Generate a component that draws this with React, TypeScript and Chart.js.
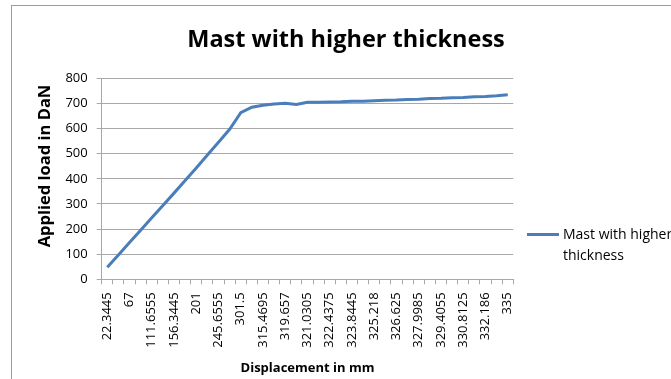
import React, { useEffect, useRef } from "react";
import { Chart, registerables } from "chart.js";

Chart.register(...registerables);

// ---- data ---------------------------------------------------------------
const chartTitle = "Mast with higher thickness";
const seriesName = "Mast with higher thickness";
const xAxisTitle = "Displacement in mm";
const yAxisTitle = "Applied load in DaN";

// displacement readings (mm), one per category
const displacement = [
  "22.3445", "44.6555", "67", "89.3445", "111.6555", "134", "156.3445", "178.6555",
  "201", "223.3445", "245.6555", "268", "301.5", "312.6445", "315.4695", "317.5625",
  "319.657", "320.3435", "321.0305", "321.734", "322.4375", "323.141", "323.8445",
  "324.5315", "325.218", "325.9215", "326.625", "327.3115", "327.9985", "328.702",
  "329.4055", "330.109", "330.8125", "331.4995", "332.186", "333.593", "335",
];

// applied load (DaN)
const appliedLoad = [
  48, 97, 146, 195, 245, 294, 343, 393, 443, 495, 545, 597, 663, 685, 693, 698,
  701, 696, 705, 705, 706, 707, 709, 709, 711, 713, 714, 716, 717, 720, 721, 723,
  724, 727, 728, 731, 735,
];

const loadMin = 0;
const loadMax = 800;
const loadStep = 100;

// ---- styling ------------------------------------------------------------
const FONT = "'Open Sans', sans-serif";
const GRID = "#a8a8a8";
const FRAME = "#9c9c9c";
const LINE = "#4a7ebb";
const TEXT = "#000000";

function wrapWords(ctx: CanvasRenderingContext2D, text: string, maxWidth: number): string[] {
  const words = text.split(" ");
  const lines: string[] = [];
  let cur = "";
  for (const w of words) {
    const next = cur ? cur + " " + w : w;
    if (cur && ctx.measureText(next).width > maxWidth) {
      lines.push(cur);
      cur = w;
    } else {
      cur = next;
    }
  }
  if (cur) lines.push(cur);
  return lines;
}

// frame, title, y-axis title and the side legend
const decorations = {
  id: "decorations",
  beforeDraw(chart: any) {
    const { ctx } = chart;
    ctx.save();
    ctx.fillStyle = "#ffffff";
    ctx.fillRect(0, 0, chart.width, chart.height);
    ctx.strokeStyle = FRAME;
    ctx.lineWidth = 1;
    ctx.strokeRect(11.5, 5.5, 760, 460);
    ctx.restore();
  },
  afterDraw(chart: any) {
    const { ctx } = chart;
    ctx.save();
    ctx.fillStyle = TEXT;
    ctx.textAlign = "center";
    ctx.textBaseline = "middle";

    ctx.font = `bold 23.5px ${FONT}`;
    ctx.fillText(chartTitle, 346, 40);

    ctx.save();
    ctx.translate(45, 166);
    ctx.rotate(-Math.PI / 2);
    ctx.font = `bold 16.5px ${FONT}`;
    ctx.fillText(yAxisTitle, 0, 0);
    ctx.restore();

    // legend
    const ds = chart.data.datasets[0];
    ctx.strokeStyle = ds.borderColor;
    ctx.lineWidth = ds.borderWidth;
    ctx.beginPath();
    ctx.moveTo(527, 234.5);
    ctx.lineTo(559, 234.5);
    ctx.stroke();

    ctx.font = `14px ${FONT}`;
    ctx.textAlign = "left";
    const lines = wrapWords(ctx, ds.label, 124);
    lines.forEach((ln, i) => ctx.fillText(ln, 563, 235 + i * 21));
    ctx.restore();
  },
};

export default function App() {
  const canvasRef = useRef<HTMLCanvasElement | null>(null);

  useEffect(() => {
    const canvas = canvasRef.current;
    if (!canvas) return;
    const chart = new Chart(canvas, {
      type: "line",
      data: {
        labels: displacement,
        datasets: [
          {
            label: seriesName,
            data: appliedLoad,
            borderColor: LINE,
            backgroundColor: LINE,
            borderWidth: 3,
            pointRadius: 0,
            tension: 0,
            fill: false,
          },
        ],
      },
      options: {
        responsive: false,
        animation: false,
        devicePixelRatio: 1,
        layout: { padding: { top: 78.3, right: 157.7, bottom: 0, left: 0 } },
        plugins: {
          legend: { display: false },
          title: { display: false },
          tooltip: { enabled: false },
        },
        scales: {
          x: {
            type: "category",
            offset: true,
            grid: {
              offset: true,
              drawOnChartArea: false,
              drawTicks: true,
              tickLength: 5,
              color: GRID,
            },
            border: { color: GRID },
            ticks: {
              autoSkip: false,
              minRotation: 90,
              maxRotation: 90,
              padding: 8,
              color: TEXT,
              font: { family: FONT, size: 13 },
              callback: (_v: any, i: number) => (i % 2 === 0 ? displacement[i] : ""),
            },
            title: {
              display: true,
              text: xAxisTitle,
              color: TEXT,
              font: { family: FONT, size: 13, weight: "bold" },
              padding: { top: 0, bottom: 3 },
            },
            afterFit: (s: any) => {
              s.height = 99.7;
            },
          },
          y: {
            min: loadMin,
            max: loadMax,
            ticks: {
              stepSize: loadStep,
              padding: 9,
              color: TEXT,
              font: { family: FONT, size: 13 },
            },
            grid: { color: GRID, tickLength: 5, drawTicks: true },
            border: { color: GRID },
            afterFit: (s: any) => {
              s.width = 101.7;
            },
          },
        },
      },
      plugins: [decorations],
    });
    return () => chart.destroy();
  }, []);

  return (
    <div style={{ position: "fixed", left: 0, top: 0, width: 671, height: 379, overflow: "hidden" }}>
      <canvas ref={canvasRef} width={671} height={379} />
    </div>
  );
}
